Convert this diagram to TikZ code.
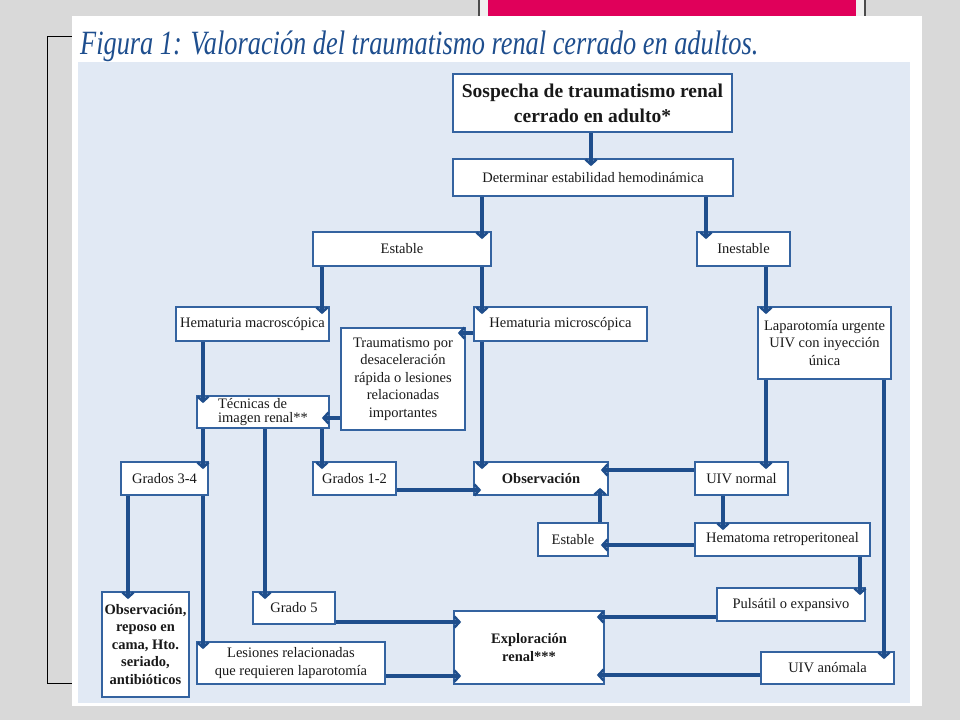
\documentclass[tikz,border=0pt]{standalone}
\usepackage{fontspec}
\setmainfont{Liberation Serif}
\usetikzlibrary{arrows.meta}
\definecolor{flowblue}{HTML}{1F4E8C}
\definecolor{boxblue}{HTML}{3463A0}
\definecolor{panelblue}{HTML}{E1E9F4}
\definecolor{slidegray}{HTML}{D9D9D9}
\definecolor{barpink}{HTML}{E0005A}
\definecolor{titleblue}{HTML}{1E4E8E}
\tikzset{
  box/.style={draw=boxblue, fill=white, line width=1.7pt, align=center, inner sep=1pt,
    text=black!90, font=\fontsize{14.5}{17.5}\selectfont},
  boldbox/.style={box, font=\fontsize{14.5}{17.5}\selectfont\bfseries},
  arr/.style={draw=flowblue, line width=3.2pt, shorten >=-8pt,
    -{Straight Barb[length=5pt,width=11pt,line width=2.6pt]}},
}
\begin{document}
\begin{tikzpicture}[x=1pt,y=-1pt]
  % slide background
  \fill[slidegray] (0,0) rectangle (960,720);
  \useasboundingbox (0,0) rectangle (960,720);
  \fill[gray!12] (479,0) rectangle (865,16);
  \fill[barpink] (488,0) rectangle (856,16);
  \draw[black!70, line width=1.5pt] (479,0) -- (479,16) (865,0) -- (865,16);
  \draw[black, line width=0.8pt] (73,36) -- (47,36) -- (47,683) -- (73,683);
  \fill[white] (72,16) rectangle (922,706);
  \fill[panelblue] (78,62) rectangle (910,703);
  \node[anchor=base west, inner sep=0pt, text=titleblue] (title) at (80,54)
    {\scalebox{0.775}[1]{\fontsize{34}{34}\selectfont\itshape Figura 1: Valoración del traumatismo renal cerrado en adultos.}};

  % boxes
  \node[box, minimum width=279pt, minimum height=58pt, font=\fontsize{19.5}{25}\selectfont\bfseries] (sospecha) at (592.5,103)
    {Sospecha de traumatismo renal\\cerrado en adulto*};
  \node[box, minimum width=280pt, minimum height=37pt] (determinar) at (593,177.5) {Determinar estabilidad hemodinámica};
  \node[box, minimum width=178pt, minimum height=34pt] (estable) at (402,249) {Estable};
  \node[box, minimum width=93pt, minimum height=34pt] (inestable) at (743.5,249) {Inestable};
  \node[box, minimum width=153pt, minimum height=34pt] (macro) at (252.5,324) {Hematuria macroscópica};
  \node[box, minimum width=173pt, minimum height=34pt] (micro) at (560.5,324) {Hematuria microscópica};
  \node[box, minimum width=124pt, minimum height=102pt] (trauma) at (403,379)
    {Traumatismo por\\desaceleración\\rápida o lesiones\\relacionadas\\importantes};
  \node[box, minimum width=133pt, minimum height=72pt] (laparo) at (824.5,343)
    {Laparotomía urgente\\UIV con inyección\\única};
  \node[box, minimum width=132pt, minimum height=32pt, align=left, inner sep=0pt, font=\fontsize{14.5}{14.5}\selectfont] (tecnicas) at (263,412)
    {Técnicas de\\imagen renal**};
  \node[box, minimum width=87pt, minimum height=33pt] (g34) at (164.5,478.5) {Grados 3-4};
  \node[box, minimum width=83pt, minimum height=33pt] (g12) at (354.5,478.5) {Grados 1-2};
  \node[boldbox, minimum width=134pt, minimum height=33pt] (observ) at (541,478.5) {Observación};
  \node[box, minimum width=93pt, minimum height=33pt] (uivnormal) at (741.5,478.5) {UIV normal};
  \node[box, minimum width=70pt, minimum height=33pt] (estable2) at (573,539.5) {Estable};
  \node[box, minimum width=175pt, minimum height=33pt] (hematoma) at (782.5,539.5) {Hematoma retroperitoneal};
  \node[boldbox, minimum width=87pt, minimum height=105pt] (obsrep) at (145.5,644.5)
    {Observación,\\reposo en\\cama, Hto.\\seriado,\\antibióticos};
  \node[box, minimum width=82pt, minimum height=32pt] (g5) at (294,608) {Grado 5};
  \node[box, minimum width=148pt, minimum height=33pt] (pulsatil) at (791,604.5) {Pulsátil o expansivo};
  \node[boldbox, minimum width=150pt, minimum height=73pt] (explor) at (529,647.5) {Exploración\\renal***};
  \node[box, minimum width=188pt, minimum height=42pt, font=\fontsize{14.5}{18}\selectfont] (lesiones) at (291,663)
    {Lesiones relacionadas\\que requieren laparotomía};
  \node[box, minimum width=133pt, minimum height=32pt] (uivanom) at (827.5,668) {UIV anómala};

  % connectors
  \begin{scope}[every path/.style={arr}]
    \draw (sospecha.south -| 591,0) -- (determinar.north -| 591,0);
    \draw (determinar.south -| 482,0) -- (estable.north -| 482,0);
    \draw (determinar.south -| 706,0) -- (inestable.north -| 706,0);
    \draw (estable.south -| 322,0) -- (macro.north -| 322,0);
    \draw (estable.south -| 482,0) -- (micro.north -| 482,0);
    \draw (micro.west |- 0,333) -- (trauma.east |- 0,333);
    \draw (micro.south -| 482,0) -- (observ.north -| 482,0);
    \draw (inestable.south -| 766,0) -- (laparo.north -| 766,0);
    \draw (macro.south -| 203,0) -- (tecnicas.north -| 203,0);
    \draw (trauma.west |- 0,418) -- (tecnicas.east |- 0,418);
    \draw (tecnicas.south -| 203,0) -- (g34.north -| 203,0);
    \draw (tecnicas.south -| 265,0) -- (g5.north -| 265,0);
    \draw (tecnicas.south -| 322,0) -- (g12.north -| 322,0);
    \draw (g12.east |- 0,490) -- (observ.west |- 0,490);
    \draw (uivnormal.west |- 0,470) -- (observ.east |- 0,470);
    \draw (estable2.north -| 600,0) -- (observ.south -| 600,0);
    \draw (laparo.south -| 766,0) -- (uivnormal.north -| 766,0);
    \draw (laparo.south -| 884,0) -- (uivanom.north -| 884,0);
    \draw (uivnormal.south -| 723,0) -- (hematoma.north -| 723,0);
    \draw (hematoma.west |- 0,545) -- (estable2.east |- 0,545);
    \draw (hematoma.south -| 860,0) -- (pulsatil.north -| 860,0);
    \draw (pulsatil.west |- 0,617) -- (explor.east |- 0,617);
    \draw (uivanom.west |- 0,675) -- (explor.east |- 0,675);
    \draw (g34.south -| 128,0) -- (obsrep.north -| 128,0);
    \draw (g34.south -| 203,0) -- (lesiones.north -| 203,0);
    \draw (g5.east |- 0,622) -- (explor.west |- 0,622);
    \draw (lesiones.east |- 0,676) -- (explor.west |- 0,676);
  \end{scope}
\end{tikzpicture}
\end{document}
